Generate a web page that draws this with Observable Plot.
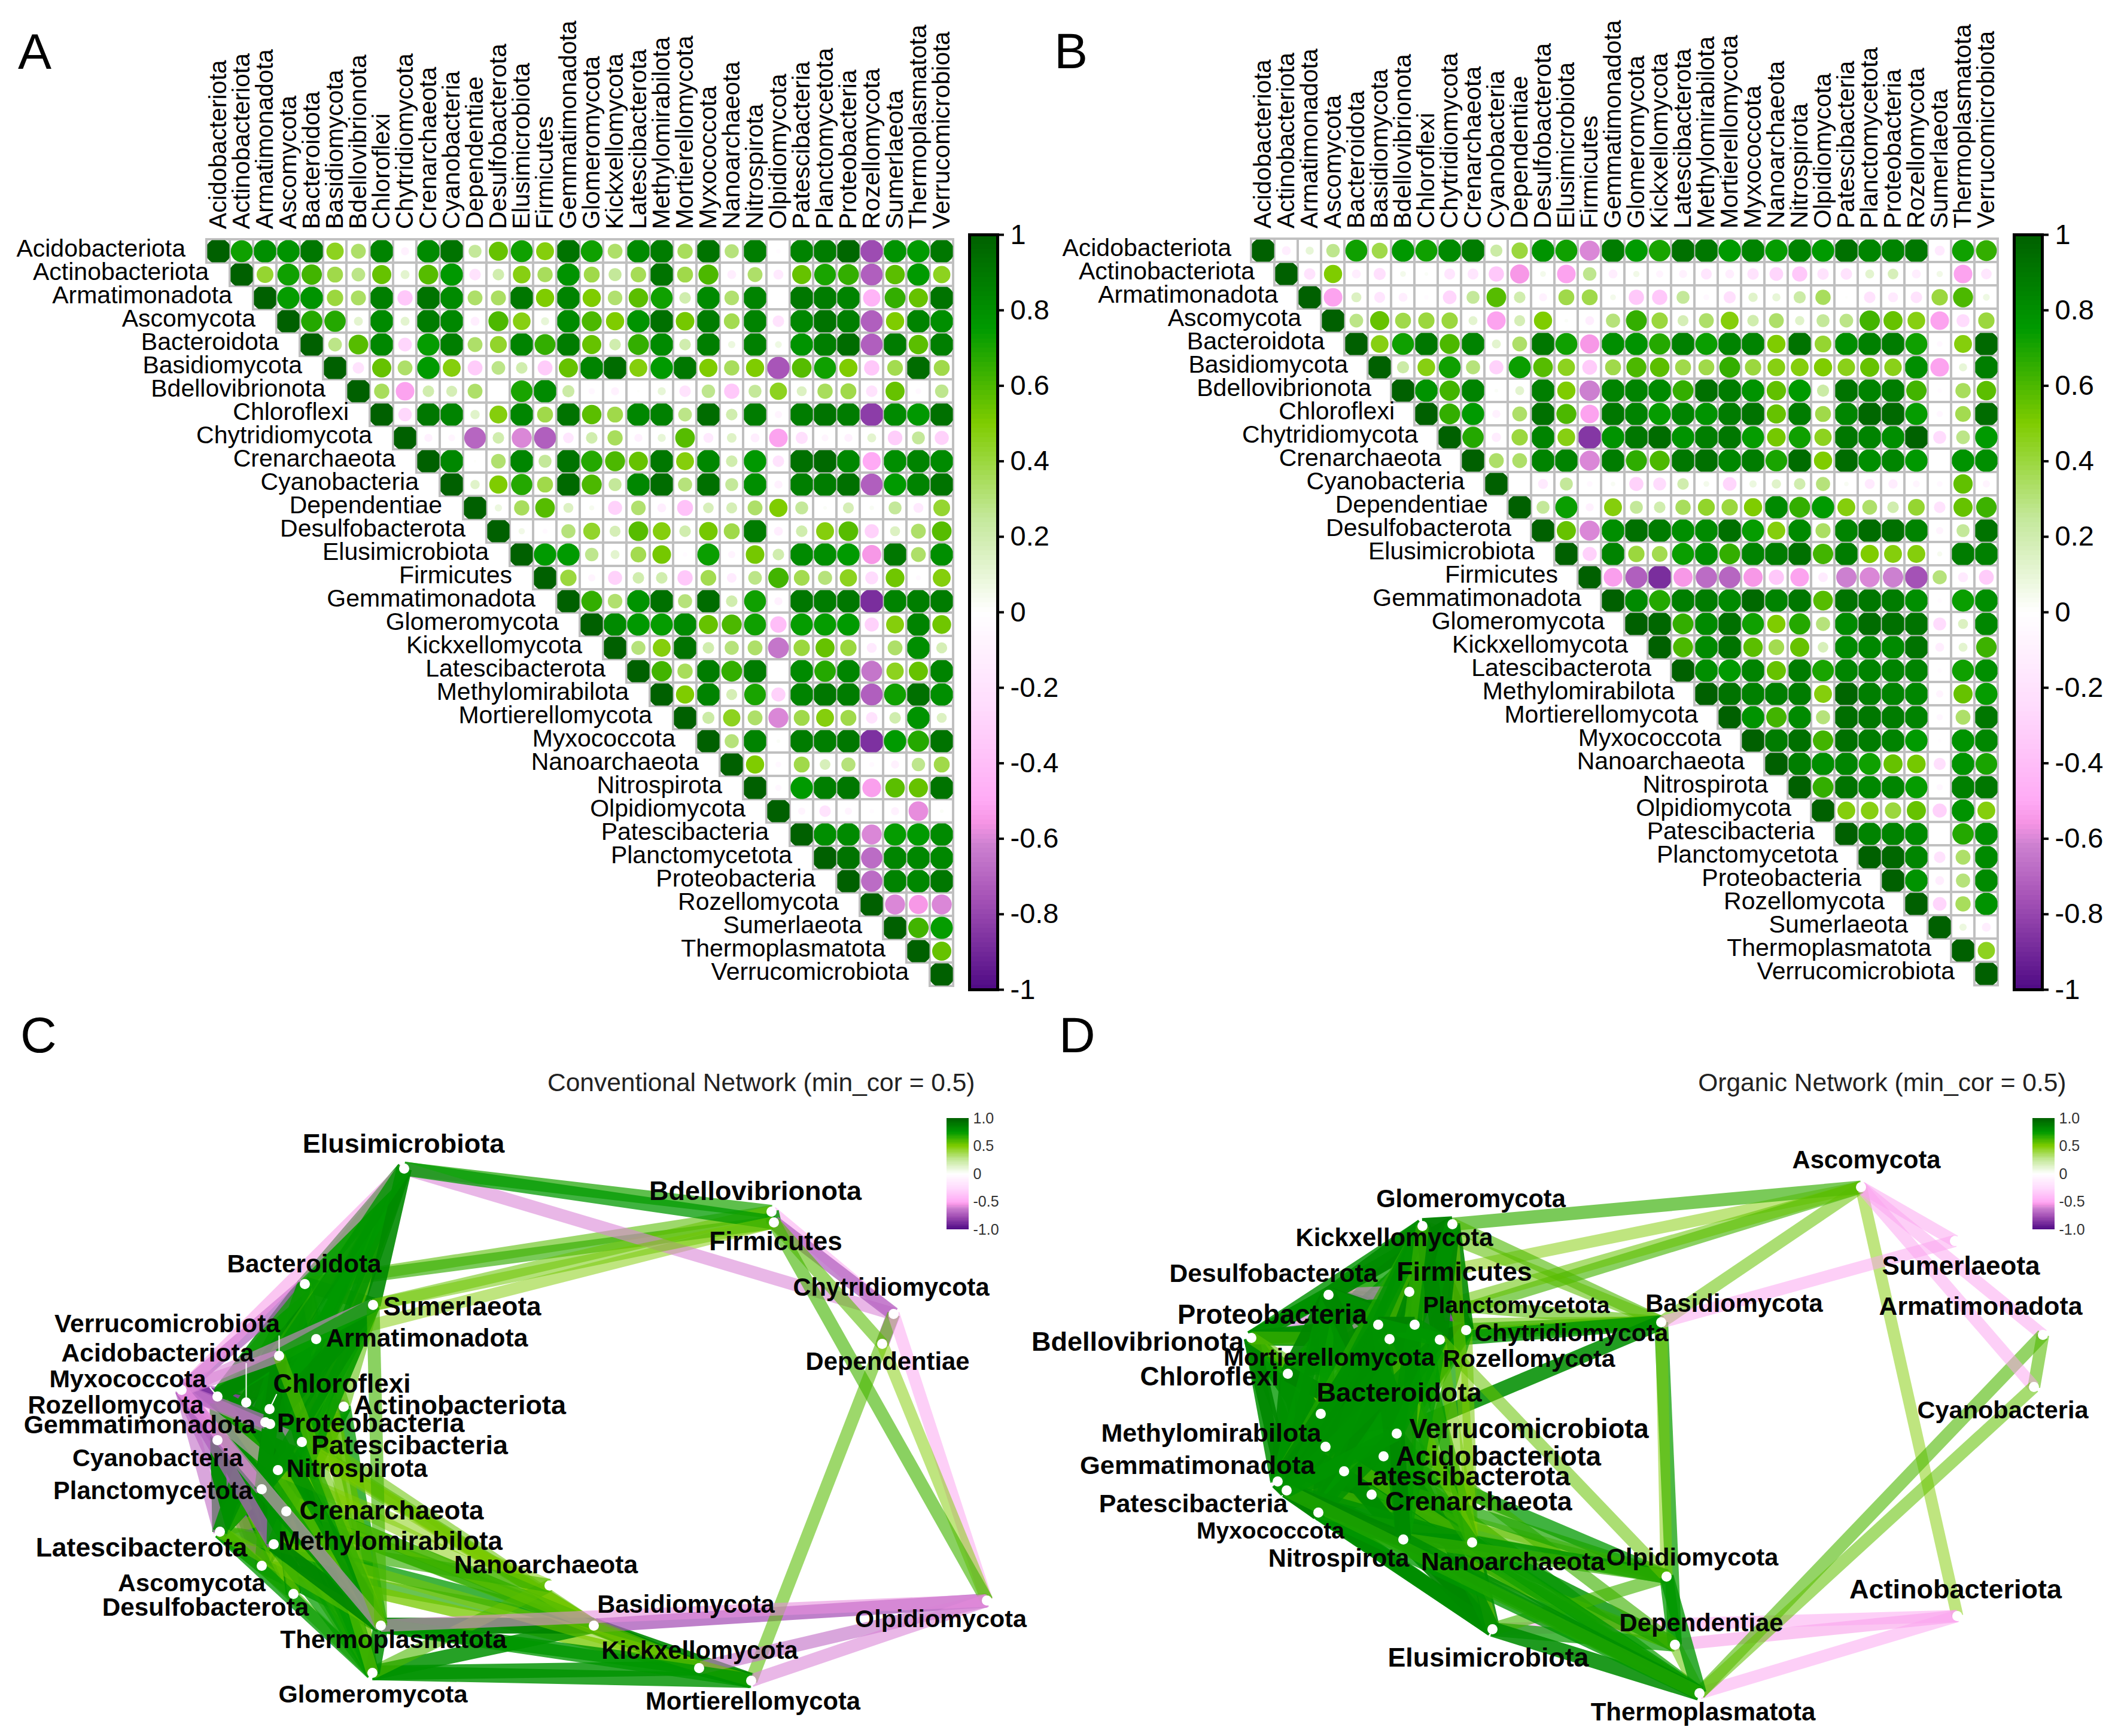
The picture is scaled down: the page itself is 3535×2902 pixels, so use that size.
<!DOCTYPE html>
<html>
<head>
<meta charset="utf-8">
<script src="https://cdn.jsdelivr.net/npm/d3@7"></script>
<script src="https://cdn.jsdelivr.net/npm/@observablehq/plot@0.6"></script>
<style>
html,body{margin:0;padding:0;background:#fff}
#page{position:relative;width:3535px;height:2902px;overflow:hidden;background:#fff;font-family:"Liberation Sans",Arial,sans-serif}
#page>svg,#page>figure{position:absolute;margin:0}
.letter{position:absolute;font-size:84px;line-height:84px;color:#000}
</style>
</head>
<body>
<div id="page"></div>
<script>
// ---------- categories ----------
const taxa = ["Acidobacteriota","Actinobacteriota","Armatimonadota","Ascomycota","Bacteroidota","Basidiomycota","Bdellovibrionota","Chloroflexi","Chytridiomycota","Crenarchaeota","Cyanobacteria","Dependentiae","Desulfobacterota","Elusimicrobiota","Firmicutes","Gemmatimonadota","Glomeromycota","Kickxellomycota","Latescibacterota","Methylomirabilota","Mortierellomycota","Myxococcota","Nanoarchaeota","Nitrospirota","Olpidiomycota","Patescibacteria","Planctomycetota","Proteobacteria","Rozellomycota","Sumerlaeota","Thermoplasmatota","Verrucomicrobiota"];

// ---------- correlations, upper triangle read row by row (diagonal = 1) ----------
const corConventional = [
[.72,.8,.78,.9,.45,.33,.85,-.1,.82,.92,.25,.55,.72,.48,.92,.72,.33,.82,.88,.35,.92,.3,.87,-.03,.85,.88,.97,-.78,.78,.75,.9],
[.42,.72,.62,.38,.28,.55,.12,.58,.76,-.2,.2,.47,.35,.78,.38,.25,.36,.92,.38,.6,-.12,.33,-.15,.55,.7,.65,-.72,.57,.75,.45],
[.74,.78,.4,.34,.87,-.35,.92,.82,.33,.34,.9,.5,.85,.5,.32,.57,.72,.2,.82,.32,.85,0,.9,.88,.85,-.45,.65,.55,.92],
[.68,.68,.12,.82,.12,.88,.83,-.12,.6,.47,.1,.82,.6,.5,.78,.93,.52,.88,.37,.85,-.2,.83,.92,.87,-.72,.5,.85,.8],
[.28,.58,.83,-.28,.74,.87,.33,.43,.85,.65,.88,.55,.2,.65,.82,.2,.87,.08,.86,.07,.78,.87,.95,-.72,.88,.57,.87],
[-.2,.55,.33,.75,.48,-.33,.28,.2,-.33,.55,.85,.95,.48,.75,.9,.5,.35,.5,-.75,.58,.72,.5,-.35,.37,.95,.38],
[.35,-.52,.2,.18,.33,0,.7,.82,.22,-.06,-.1,.01,.1,-.2,.27,-.35,.25,.45,.15,.35,.38,-.2,.55,-.05,.27],
[-.27,.9,.85,.13,.48,.84,.38,.92,.57,.38,.83,.86,.28,.95,.2,.88,-.08,.88,.92,.88,-.83,.82,.76,.93],
[-.1,-.07,-.7,.2,-.6,-.72,-.17,.2,.35,-.1,.1,.58,-.15,.14,-.12,-.52,-.22,-.07,-.1,.12,-.32,.25,-.3],
[.83,.01,.32,.84,.25,.92,.68,.6,.55,.9,.48,.83,.2,.76,-.2,.93,.96,.83,-.5,.8,.85,.82],
[.13,.5,.68,.38,.96,.6,.25,.83,.95,.3,.93,.25,.8,-.1,.87,.88,.93,-.72,.75,.85,.92],
[.08,.35,.58,.15,.04,-.3,.32,-.12,-.38,.17,.18,.33,.5,.25,.02,.18,.03,.25,-.15,.42],
[.06,-.04,.3,.43,.18,.58,.48,.2,.52,.38,.88,-.12,.2,.48,.58,-.3,.15,.33,.58],
[.75,.75,.27,.12,.37,.52,-.03,.73,-.08,.52,.2,.82,.8,.75,-.55,.9,.33,.8],
[.4,-.08,-.3,.2,.2,-.35,.37,-.14,.28,.62,.37,.3,.45,-.25,.53,-.04,.48],
[.65,.32,.78,.93,.3,.95,.2,.72,-.1,.9,.88,.9,-.88,.85,.87,.88],
[.82,.76,.74,.82,.55,.6,.72,-.4,.74,.74,.75,-.3,.48,.85,.53],
[.3,.48,.92,.2,.3,.33,-.65,.4,.55,.4,-.15,.33,.8,.18],
[.62,.35,.88,.65,.88,-.01,.82,.68,.84,-.65,.45,.55,.85],
[.5,.85,.18,.7,-.3,.85,.9,.88,-.72,.72,.93,.8],
[.22,.45,.33,-.6,.38,.48,.38,-.2,.2,.78,.15],
[.3,.85,.02,.88,.87,.9,-.87,.75,.68,.92],
[.5,-.05,.38,.17,.3,-.04,-.1,.27,.38],
[-.06,.75,.87,.9,-.53,.57,.55,.92],
[-.08,-.2,-.08,-.03,-.1,-.58,.02],
[.8,.82,-.6,.74,.75,.82],
[.92,-.68,.84,.83,.83],
[-.68,.85,.83,.9],
[-.6,-.55,-.6],
[.62,.74],
[.55]
];
const corOrganic = [
[-.12,.1,.27,.72,.38,.76,.72,.82,.88,.22,.4,.78,.72,-.6,.88,.75,.7,.93,.9,.75,.85,.74,.85,.75,.93,.84,.85,.9,-.15,.72,.65],
[-.2,.5,-.12,-.22,.05,.02,-.18,-.18,-.35,-.55,.05,-.52,.27,-.12,.06,-.08,-.1,-.18,-.12,-.2,-.28,-.35,-.2,-.2,.12,.17,-.12,.06,-.52,-.17],
[-.52,.15,-.18,-.12,-.03,-.28,.25,.58,.2,-.1,.38,.38,.05,-.35,-.35,.25,-.05,-.22,.13,.1,.22,.35,.01,-.2,-.15,-.2,.4,.6,.07],
[.28,.55,.38,.4,.4,.12,-.52,.18,.5,.02,-.12,.3,.65,.4,.18,.33,.48,.2,.33,.13,.25,.28,.62,.55,.47,-.52,-.25,.4],
[.47,.72,.9,.6,.85,.12,.33,.9,.72,-.55,.8,.78,.68,.86,.73,.85,.85,.5,.92,.42,.8,.86,.88,.72,-.05,.48,.96],
[.22,.47,.72,.3,-.3,.73,.58,.45,-.33,.38,.6,.57,.38,.38,.65,.4,.47,.48,.5,.46,.55,.46,.8,-.52,.1,.87],
[.78,.62,.85,.02,.12,.87,.5,-.62,.85,.85,.82,.65,.93,.88,.78,.56,.75,.22,.92,.85,.88,.62,-.03,.35,.57],
[.65,.75,-.1,.33,.93,.6,-.52,.9,.85,.74,.85,.78,.88,.92,.55,.88,.38,.84,.97,.96,.74,-.06,.37,.95],
[.68,-.13,.4,.85,.47,-.85,.78,.9,.95,.78,.87,.9,.74,.52,.72,.45,.9,.85,.8,.99,-.25,.28,.75],
[.33,.33,.85,.85,-.6,.88,.66,.6,.9,.93,.83,.88,.7,.95,.5,.95,.8,.84,.76,0,.78,.8],
[0,-.15,.25,-.05,.03,-.3,-.25,.2,.05,-.28,.08,.13,.2,.3,.03,-.15,-.13,-.07,-.05,.56,-.08],
[.25,.73,-.1,.48,.25,.2,.35,.43,.4,.5,.82,.65,.75,.48,.33,.2,.42,-.2,.55,.63],
[.55,-.6,.8,.93,.88,.8,.82,.93,.74,.48,.82,.34,.85,.95,.93,.85,-.08,.25,.92],
[-.3,.85,.4,.37,.73,.8,.65,.85,.88,.93,.62,.88,.5,.48,.48,.04,.88,.86],
[-.53,-.72,-.88,-.55,-.68,-.7,-.55,-.35,-.52,-.14,-.62,-.6,-.62,-.76,.3,-.15,-.33],
[.82,.68,.87,.88,.82,.96,.85,.9,.58,.92,.9,.88,.8,-.03,.73,.8],
[.97,.65,.82,.93,.72,.5,.68,.3,.82,.95,.93,.92,-.25,.15,.83],
[.6,.82,.92,.57,.37,.55,.17,.82,.83,.82,.92,-.12,.12,.63],
[.8,.75,.85,.55,.88,.7,.84,.85,.85,.85,-.03,.72,.8],
[.92,.86,.87,.88,.48,.98,.87,.85,.83,-.08,.55,.74],
[.78,.62,.82,.3,.94,.9,.88,.85,-.06,.33,.9],
[.88,.93,.62,.93,.88,.85,.75,-.02,.78,.83],
[.87,.8,.84,.72,.55,.52,-.22,.78,.7],
[.65,.92,.83,.84,.74,-.06,.86,.9],
[.48,.47,.4,.55,-.3,.78,.48],
[.85,.85,.82,0,.68,.8],
[.97,.84,-.2,.33,.82],
[.78,-.12,.3,.82],
[-.28,.35,.78],
[.08,-.12],
[.45]
];

// ---------- network layout coordinates (taxa order) ----------
const nodeXConventional = [411,574,528,437,509,992,1289,450,1493,478,363,1474,490,675,1293,443,622,1168,367,457,1255,363,918,464,1649,504,437,451,303,623,636,466];
const nodeYConventional = [2344,2351,2238,2617,2146,2717,2025,2355,2196,2526,2407,2246,2664,1953,2043,2377,2796,2788,2560,2581,2809,2334,2650,2457,2675,2410,2489,2380,2323,2181,2717,2266];
const labelXConventional = [263,768,713,320,508,1146,1262,571,1489,654,263,1483,343,674,1296,233,623,1169,236,652,1258,213,912,596,1572,684,255,619,193,772,657,279];
const labelYConventional = [2262,2349,2237,2646,2113,2682,1991,2313,2152,2525,2437,2276,2687,1912,2075,2382,2832,2759,2587,2576,2844,2305,2616,2455,2706,2416,2492,2379,2349,2184,2741,2213];
const labelSizeConventional = [42.6,45,42.5,41.5,42.2,41.7,45,44,41.6,44,41.4,41.8,42.3,45,44,42.8,41.5,41.6,44.5,43.8,41.7,41.4,42.5,41.6,41.3,44.8,41.6,44.8,41.7,44,42.3,42.7];

const nodeXOrganic = [2312,3271,3414,3110,2207,2776,2091,2152,2450,2292,3399,2799,2220,2494,2355,2135,2427,2377,2246,2215,2322,2203,2460,2345,2785,2150,2364,2303,2406,3267,2840,2334];
const nodeYOrganic = [2434,2701,2231,1984,2363,2210,2236,2296,2223,2498,2318,2749,2164,2723,2159,2476,2046,2049,2459,2418,2238,2528,2578,2573,2635,2491,2214,2214,2239,2074,2830,2396];
const labelXOrganic = [2504,3268,3310,3119,2338,2898,1901,2021,2626,2471,3347,2843,2128,2487,2447,2001,2458,2330,2445,2024,2221,2123,2528,2237,2828,1994,2534,2126,2555,3277,2846,2555];
const labelYOrganic = [2435,2657,2184,1939,2328,2179,2243,2301,2228,2510,2357,2713,2129,2771,2126,2450,2004,2069,2468,2396,2269,2559,2611,2605,2603,2514,2182,2198,2271,2116,2862,2389];
const labelSizeOrganic = [45.4,45,42.8,41.7,45.2,41.7,45,44.4,41,44.6,41.5,41.8,42.6,44.8,44.8,43.4,41.6,41.8,45,43,41,39,42.5,41.6,41.4,43,39,45.3,40.8,44,42,45.3];

// leader lines of the repelled labels in the conventional network
const leaderTaxa = ["Verrucomicrobiota","Acidobacteriota","Chloroflexi","Myxococcota"];
const leaderEndX = [466,411,462,350];
const leaderEndY = [2232,2278,2330,2318];

// ---------- colour scale and tick labels ----------
const colorStops = [-1,-.75,-.62,-.56,-.5,-.25,0,.25,.5,.75,1];
const colorRange = ["#4f0a85","#a855b8","#cc80d0","#f594e4","#ffaaf5","#ffdcfd","#ffffff","#c4e89a","#7fcc00","#009a00","#006000"];
const edgeRange = ["#4f0a85","#a855b8","#cc80d0","#f594e4","#ffaaf5","#ffdcfd","#ffffff","#c4e89a","#7fcc00","#009a00","#008000"];
const barTicks = [-1,-.8,-.6,-.4,-.2,0,.2,.4,.6,.8,1];
const legendTicks = [-1,-.5,0,.5,1];
const legendTickLabels = ["-1.0","-0.5","0","0.5","1.0"];

const titleConventional = "Conventional Network (min_cor = 0.5)";
const titleOrganic = "Organic Network (min_cor = 0.5)";

// ---------- helpers ----------
const FONT = '"Liberation Sans", Arial, sans-serif';
const page = document.getElementById("page");
const colorScale = {type:"linear", domain:colorStops, range:colorRange, clamp:true};
const edgeScale = {type:"linear", domain:colorStops, range:edgeRange, clamp:true};
function place(el,left,top){el.style.position="absolute";el.style.left=left+"px";el.style.top=top+"px";page.appendChild(el);}
function letter(t,left,top){const d=document.createElement("div");d.className="letter";d.textContent=t;d.style.left=left+"px";d.style.top=top+"px";page.appendChild(d);}

const CELL_HALF = 18.6;
const clippedCircle = {draw(ctx,size){
  const r=Math.sqrt(size/Math.PI), h=CELL_HALF;
  if(r<=h){ctx.moveTo(r,0);ctx.arc(0,0,r,0,2*Math.PI);ctx.closePath();return;}
  const a=Math.acos(h/r);
  for(let k=0;k<4;k++){
    const b=k*Math.PI/2, a1=b+a, a2=b+Math.PI/2-a;
    if(k===0)ctx.moveTo(r*Math.cos(a1),r*Math.sin(a1)); else ctx.lineTo(r*Math.cos(a1),r*Math.sin(a1));
    ctx.arc(0,0,r,a1,a2);
  }
  ctx.closePath();
}};

function tableOf(rows){
  const out=[];
  taxa.forEach((t,i)=>{
    out.push({row:t,col:t,v:1,i,j:i});
    (rows[i]||[]).forEach((v,k)=>out.push({row:t,col:taxa[i+k+1],v,i,j:i+k+1}));
  });
  return out;
}

function matrixPanel(rows,{left,width,height,x0,x1,y0,y1,dxLabel}){
  const table=tableOf(rows);
  const p=Plot.plot({
    width,height,marginLeft:x0,marginRight:width-x1,marginTop:y0,marginBottom:height-y1,
    style:{background:"none",fontFamily:FONT},
    x:{type:"band",domain:taxa,padding:0,axis:null},
    y:{type:"band",domain:taxa,padding:0,axis:null},
    r:{type:"sqrt",domain:[0,1],range:[0,21.6]},
    color:colorScale,
    marks:[
      Plot.cell(table,{x:"col",y:"row",fill:"white",stroke:"#c0c0c0",strokeWidth:4}),
      Plot.dot(table.filter(d=>d.v!==0),{x:"col",y:"row",r:d=>Math.abs(d.v),fill:"v",symbol:clippedCircle}),
      Plot.text(taxa,{x:d=>d,y:d=>d,text:d=>d,dx:dxLabel,textAnchor:"end",fontSize:41,fill:"black",lineAnchor:"middle",dy:-4}),
      Plot.text(taxa,{x:d=>d,y:()=>taxa[0],text:d=>d,rotate:-90,textAnchor:"start",lineAnchor:"middle",dy:-37,fontSize:41,fill:"black"})
    ]
  });
  place(p,left,0);
}

function colorBar({left,top,barW,barH,ticks,labels,tickSize,tickPadding,fontSize,fill,frame,marginRight,n}){
  const step=2/n, levels=d3.range(n).map(i=>-1+i*step);
  const pad=frame?40:22, padX=frame?8:2;
  const p=Plot.plot({
    width:barW+marginRight+padX,height:barH+2*pad,
    marginLeft:padX,marginRight,marginTop:pad,marginBottom:pad,
    style:{background:"none",fontFamily:FONT},
    x:{domain:[0,1],axis:null},
    y:{domain:[-1,1],axis:null},
    color:colorScale,
    marks:[
      Plot.rect(levels,{x1:0,x2:1,y1:d=>d,y2:d=>d+step,fill:d=>d+step/2,inset:0,shapeRendering:"crispEdges"}),
      frame?Plot.frame({stroke:"black",strokeWidth:5}):null,
      Plot.axisY({anchor:"right",ticks,tickFormat:(d)=>labels[ticks.indexOf(d)],tickSize,tickPadding,fontSize,fill,stroke:"black",strokeWidth:4,label:null})
    ]
  });
  place(p,left-padX,top-pad);
}

function edgesOf(rows,nodeX,nodeY){
  const out=[];
  tableOf(rows).forEach(d=>{
    if(d.i!==d.j&&Math.abs(d.v)>=.5){
      const a=Math.abs(d.v);
      out.push({x1:nodeX[d.i],y1:nodeY[d.i],x2:nodeX[d.j],y2:nodeY[d.j],v:d.v,a,w:20+(a-.5)*14,o:a});
    }
  });
  return out;
}

function networkPanel(rows,nodeX,nodeY,labelX,labelY,labelSize,{left,top,width,height,title,titleRight,leaders}){
  const edges=edgesOf(rows,nodeX,nodeY);
  const nodes=taxa.map((t,i)=>({t,x:nodeX[i],y:nodeY[i],lx:labelX[i],ly:labelY[i],s:labelSize[i]}));
  const p=Plot.plot({
    width,height,margin:0,
    style:{background:"none",fontFamily:FONT},
    x:{domain:[left,left+width],axis:null},
    y:{domain:[top,top+height],range:[0,height],axis:null},
    color:edgeScale,
    marks:[
      Plot.link(edges,{x1:"x1",y1:"y1",x2:"x2",y2:"y2",stroke:"v",strokeWidth:"w",strokeOpacity:"o",strokeLinecap:"butt"}),
      leaders?Plot.link(leaders,{x1:"x1",y1:"y1",x2:"x2",y2:"y2",stroke:"white",strokeWidth:2}):null,
      Plot.dot(nodes,{x:"x",y:"y",r:8.5,fill:"white"}),
      Plot.text(nodes,{x:"lx",y:"ly",text:"t",fontSize:"s",fontWeight:"bold",fill:"#050505",textAnchor:"middle",lineAnchor:"middle"}),
      Plot.text([title],{x:()=>titleRight,y:()=>1810,text:d=>d,textAnchor:"end",lineAnchor:"middle",fontSize:42.5,fill:"#222"})
    ]
  });
  place(p,left,top);
}

// ---------- panels ----------
matrixPanel(corConventional,{left:0,width:1767,height:1700,x0:342.6,x1:1595,y0:393,y1:1654,dxLabel:-55});
matrixPanel(corOrganic,{left:1767,width:1768,height:1700,x0:321.4,x1:1575,y0:392,y1:1653,dxLabel:-53});

const barLabels=barTicks.map(String);
colorBar({left:1620,top:392,barW:47,barH:1262,ticks:barTicks,labels:barLabels,tickSize:10,tickPadding:11,fontSize:47,fill:"black",frame:true,marginRight:120,n:160});
colorBar({left:3366,top:392,barW:47,barH:1262,ticks:barTicks,labels:barLabels,tickSize:10,tickPadding:11,fontSize:47,fill:"black",frame:true,marginRight:120,n:160});

const leadersC=leaderTaxa.map((t,k)=>{const i=taxa.indexOf(t);return {x1:nodeXConventional[i],y1:nodeYConventional[i],x2:leaderEndX[k],y2:leaderEndY[k]};});
networkPanel(corConventional,nodeXConventional,nodeYConventional,labelXConventional,labelYConventional,labelSizeConventional,{left:0,top:1700,width:1760,height:1202,title:titleConventional,titleRight:1629,leaders:leadersC});
networkPanel(corOrganic,nodeXOrganic,nodeYOrganic,labelXOrganic,labelYOrganic,labelSizeOrganic,{left:1700,top:1700,width:1835,height:1202,title:titleOrganic,titleRight:3453});

colorBar({left:1582,top:1869,barW:37,barH:186,ticks:legendTicks,labels:legendTickLabels,tickSize:0,tickPadding:7,fontSize:25,fill:"#333",frame:false,marginRight:70,n:80});
colorBar({left:3397,top:1869,barW:37,barH:186,ticks:legendTicks,labels:legendTickLabels,tickSize:0,tickPadding:7,fontSize:25,fill:"#333",frame:false,marginRight:70,n:80});

letter("A",30,44);letter("B",1762,43);letter("C",34,1688);letter("D",1770,1688);
</script>
</body>
</html>
